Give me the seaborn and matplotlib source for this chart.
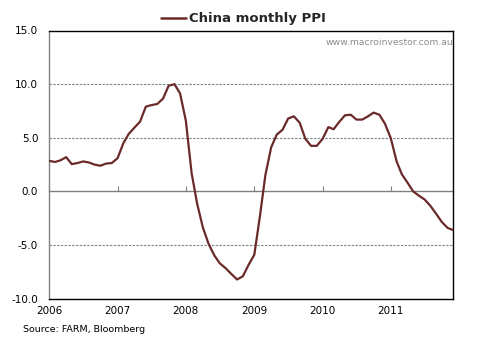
import matplotlib
matplotlib.use("Agg")
import matplotlib.pyplot as plt
import matplotlib.dates as mdates
import matplotlib.ticker as mticker
import numpy as np
import pandas as pd
import seaborn as sns

# China producer price index, year-on-year %, monthly Jan 2006 - Dec 2011
start_month = "2006-01-01"
ppi = [2.85, 2.75, 2.9, 3.2, 2.55, 2.65, 2.8, 2.7, 2.5, 2.4, 2.6, 2.65,
       3.1, 4.5, 5.35, 5.95, 6.5, 7.9, 8.05, 8.15, 8.65, 9.85, 10.0, 9.15,
       6.6, 1.7, -1.1, -3.35, -4.85, -5.95, -6.7, -7.15, -7.7, -8.2, -7.9, -6.85,
       -5.9, -2.2, 1.5, 4.1, 5.3, 5.75, 6.8, 7.0, 6.4, 4.9, 4.25, 4.25,
       4.9, 6.0, 5.8, 6.5, 7.1, 7.15, 6.7, 6.7, 7.0, 7.35, 7.15, 6.3,
       4.95, 2.8, 1.6, 0.8, 0.0, -0.4, -0.75, -1.35, -2.1, -2.85, -3.4, -3.6]
series_name = "China monthly PPI"
y_ticks = [-10, -5, 0, 5, 10, 15]
grid_levels = [-5, 5, 10]
source_text = "Source: FARM, Bloomberg"
watermark = "www.macroinvestor.com.au"

dates = pd.date_range(start_month, periods=len(ppi), freq="MS")
df = pd.DataFrame({"date": dates, "ppi": ppi})

sns.set_theme(style="white")
plt.rcParams["font.family"] = ["DejaVu Sans"]

fig = plt.figure(figsize=(4.97, 3.45), dpi=100)
ax = fig.add_axes([49.3 / 497, 1 - 298.8 / 345, (453.3 - 49.3) / 497, (298.8 - 30.5) / 345])

line_color = "#6a2a2a"
sns.lineplot(data=df, x="date", y="ppi", ax=ax, color=line_color,
             linewidth=1.6, label=series_name, zorder=3)

ax.set_xlim(dates[0], dates[-1])
ax.set_ylim(y_ticks[0], y_ticks[-1])

# dashed horizontal gridlines
for lvl in grid_levels:
    ax.axhline(lvl, color="#7d8585", linewidth=0.8, linestyle=(0, (2.2, 1.2)), zorder=1)

# y axis
ax.yaxis.set_major_locator(mticker.FixedLocator(y_ticks))
ax.yaxis.set_major_formatter(mticker.FormatStrFormatter("%.1f"))
ax.tick_params(axis="y", length=0, pad=8, labelsize=7.5, labelcolor="black")

# x axis: year labels along the bottom edge
ax.xaxis.set_major_locator(mdates.YearLocator())
ax.xaxis.set_major_formatter(mdates.DateFormatter("%Y"))
ax.tick_params(axis="x", length=0, pad=5, labelsize=7.5, labelcolor="black")
ax.set_xlabel("")
ax.set_ylabel("")

# spines
for side in ["top", "right", "bottom"]:
    ax.spines[side].set_color("black")
    ax.spines[side].set_linewidth(1.0)
    ax.spines[side].set_visible(True)
ax.spines["left"].set_color("#808080")
ax.spines["left"].set_linewidth(1.0)
ax.spines["left"].set_visible(True)

# zero line carrying the year tick marks
zero_frac = (0 - y_ticks[0]) / (y_ticks[-1] - y_ticks[0])
secax = ax.secondary_xaxis(zero_frac)
secax.xaxis.set_major_locator(mdates.YearLocator())
secax.tick_params(axis="x", direction="in", length=3.5, width=0.8, color="#808080",
                  labelbottom=False, labeltop=False)
secax.spines["bottom"].set_color("#808080")
secax.spines["bottom"].set_linewidth(1.0)

# legend as the chart heading
leg = ax.legend(loc="center", bbox_to_anchor=(0.48, 1.043), frameon=False,
                handlelength=1.9, handletextpad=0.2, borderaxespad=0,
                prop={"weight": "bold", "size": 9.5})
for h in leg.get_lines():
    h.set_linewidth(1.8)

ax.text(1.0, 0.955, watermark, transform=ax.transAxes, ha="right", va="center",
        fontsize=6.7, color="#8c8c8c")
fig.text(22.7 / 497, 1 - 330 / 345, source_text, ha="left", va="center",
         fontsize=6.8, color="black")

fig.savefig("out.png", dpi=100, facecolor="white")
